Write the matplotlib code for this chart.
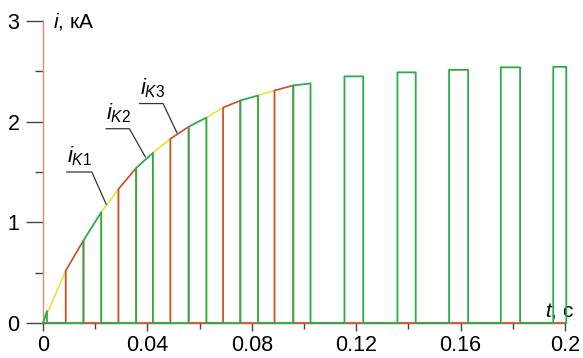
import matplotlib
matplotlib.use("Agg")
import matplotlib.pyplot as plt
from matplotlib.ticker import MultipleLocator

plt.rcParams['font.family'] = ['Liberation Sans', 'DejaVu Sans']
plt.rcParams['mathtext.fontset'] = 'custom'
plt.rcParams['mathtext.it'] = 'Liberation Sans:italic'
plt.rcParams['mathtext.rm'] = 'Liberation Sans'

# switching instants (s) where one transistor hands over to the next, and envelope current (kA)
edge_t = [0.0087, 0.0155, 0.0223, 0.0289, 0.0357, 0.0421, 0.0488, 0.0558,
          0.0626, 0.0690, 0.0756, 0.0824, 0.0887, 0.0959, 0.1025]
edge_i = [0.52, 0.82, 1.10, 1.33, 1.54, 1.69, 1.83, 1.95,
          2.04, 2.14, 2.21, 2.26, 2.31, 2.36, 2.38]

# initial short spike of i_K2
spike_t = 0.0015
spike_i = 0.12

# later separate pulses of i_K2
late_start = [0.1155, 0.1358, 0.1556, 0.1754, 0.1955]
late_end = [0.1227, 0.1428, 0.1629, 0.1828, 0.2005]
late_top = [2.45, 2.49, 2.515, 2.54, 2.545]

t_end = 0.2
col_k1 = '#e6e43c'
col_k2 = '#2aac48'
col_k3 = '#cf4a2e'

seg_t = [0.0] + edge_t
seg_i = [0.0] + edge_i


def build(phase):
    ts, ys = [0.0], [0.0]
    for k in range(len(edge_t)):
        if k % 3 != phase:
            continue
        t0, t1 = seg_t[k], seg_t[k + 1]
        ts += [t0, t0, t1, t1]
        ys += [0.0, seg_i[k], seg_i[k + 1], 0.0]
    return ts, ys


k1_t, k1_i = build(0)
k1_t.append(t_end); k1_i.append(0.0)
k3_t, k3_i = build(1)
k3_t.append(t_end); k3_i.append(0.0)

k2_t, k2_i = [0.0, spike_t, spike_t], [0.0, spike_i, 0.0]
bt, bi = build(2)
k2_t += bt[1:]; k2_i += bi[1:]
for s, e, h in zip(late_start, late_end, late_top):
    k2_t += [s, s, e, e]
    k2_i += [0.0, h, h, 0.0]
k2_t.append(t_end); k2_i.append(0.0)

fig = plt.figure(figsize=(5.83, 3.58), dpi=100)
ax = fig.add_axes([0.0738, 0.0978, 0.8953, 0.8435])

ax.plot(k1_t, k1_i, color=col_k1, lw=1.2, zorder=3, clip_on=False)
ax.plot(k3_t, k3_i, color=col_k3, lw=1.2, zorder=4, clip_on=False)
ax.plot(k2_t, k2_i, color=col_k2, lw=1.3, zorder=5, clip_on=False)

# labels with underline and leader line
labels = [r'$i_{\mathit{K1}}$', r'$i_{\mathit{K2}}$', r'$i_{\mathit{K3}}$']
under_x0 = [0.0091, 0.0242, 0.0370]
under_x1 = [0.0187, 0.0331, 0.0460]
under_y = [1.50, 1.93, 2.18]
target_t = [0.0242, 0.0392, 0.0513]
target_i = [1.18, 1.65, 1.89]
for lab, x0, x1, yu, xt, yt in zip(labels, under_x0, under_x1, under_y, target_t, target_i):
    ax.plot([x0, x1, xt], [yu, yu, yt], color='#333333', lw=0.9, zorder=6)
    ax.text(x0 + 0.0001, yu + 0.04, lab, fontsize=16, ha='left', va='bottom', zorder=6)

ax.set_xlim(0, 0.2)
ax.set_ylim(0, 3)
ax.set_xticks([0, 0.04, 0.08, 0.12, 0.16, 0.2])
ax.set_xticklabels(['0', '0.04', '0.08', '0.12', '0.16', '0.2'])
ax.xaxis.set_minor_locator(MultipleLocator(0.02))
ax.set_yticks([0, 1, 2, 3])
ax.set_yticklabels(['0', '1', '2', '3'])
ax.yaxis.set_minor_locator(MultipleLocator(0.5))

for s in ['top', 'right']:
    ax.spines[s].set_visible(False)
ax.spines['left'].set_color('#e08a78')
ax.spines['left'].set_linewidth(1.0)
ax.spines['bottom'].set_color('#555555')
ax.spines['bottom'].set_linewidth(1.0)

ax.tick_params(axis='y', which='major', length=12, width=1, color='#444444', pad=5, labelsize=15.5)
ax.tick_params(axis='y', which='minor', length=6, width=1, color='#444444')
ax.tick_params(axis='x', which='major', length=6, width=1, color='#444444', pad=3, labelsize=15.5)
ax.tick_params(axis='x', which='minor', length=4, width=1, color='#444444')

ax.text(0.0038, 3.0, r'$i$, кА', fontsize=15, ha='left', va='center')
ax.text(0.1925, 0.02, r'$t$, с', fontsize=15, ha='left', va='bottom')

fig.savefig('out.png', dpi=100)
